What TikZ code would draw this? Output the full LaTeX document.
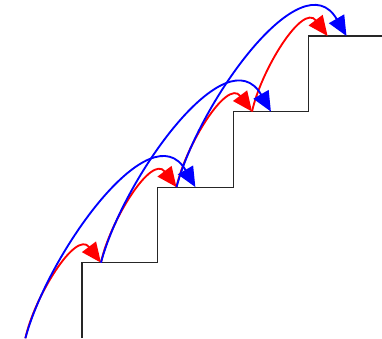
\documentclass[tikz,border=0pt]{standalone}
\usepackage{tikz}
\usetikzlibrary{arrows.meta, calc}

\begin{document}
\begin{tikzpicture}[
    x=2cm, y=2cm,
    stair/.style={draw=black!85, line width=0.9pt},
    hop/.style={line width=1.4pt, -{Triangle[length=15pt, width=13pt]}},
    onehop/.style={hop, red},
    twohop/.style={hop, blue}
]
    \useasboundingbox (-0.086,0) rectangle (4.97,4.477);

    % Staircase
    \draw[stair] (1,0) -- (1,1) -- (2,1) -- (2,2) -- (3,2) -- (3,3) -- (4,3) -- (4,4) -- (4.97,4);

    % Landing points
    \coordinate (r0) at (0.25,0);
    \coordinate (r1) at (1.25,1);
    \coordinate (r2) at (2.25,2);
    \coordinate (r3) at (3.25,3);
    \coordinate (r4) at (4.25,4);
    \coordinate (b2) at (2.5,2);
    \coordinate (b3) at (3.5,3);
    \coordinate (b4) at (4.5,4);

    % One step at a time
    \draw[onehop] (r0) to[out=78, in=127] (r1);
    \draw[onehop] (r1) to[out=78, in=127] (r2);
    \draw[onehop] (r2) to[out=78, in=127] (r3);
    \draw[onehop] (r3) to[out=78, in=127] (r4);

    % Two steps at a time
    \draw[twohop] (r0) to[out=75, in=120] (b2);
    \draw[twohop] (r1) to[out=75, in=120] (b3);
    \draw[twohop] (r2) to[out=75, in=120] (b4);
\end{tikzpicture}
\end{document}
